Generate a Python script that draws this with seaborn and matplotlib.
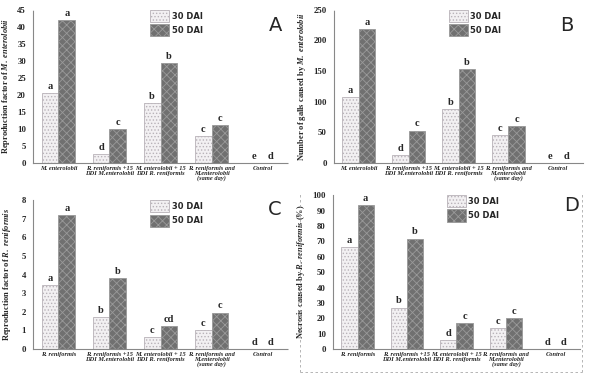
import numpy as np
import pandas as pd
import matplotlib
matplotlib.use("Agg")
import matplotlib.pyplot as plt
import matplotlib.patches as mpatches
import matplotlib.lines as mlines
import seaborn as sns

sns.set_style("white")
plt.rcParams['font.family'] = ['Liberation Serif', 'DejaVu Serif']
plt.rcParams['mathtext.fontset'] = 'custom'
plt.rcParams['mathtext.rm'] = 'Liberation Serif:bold'
plt.rcParams['mathtext.it'] = 'Liberation Serif:bold:italic'
plt.rcParams['hatch.linewidth'] = 0.6

# %%  data

times = ['30 DAI', '50 DAI']

cats_me = ['M. enterolobii', 'R. reniformis +15\nDDI M.enterolobii',
           'M. enterolobii + 15\nDDI R. reniformis',
           'R. reniformis and\nM.enterolobii\n(same day)', 'Control']
cats_rr = ['R. reniformis', 'R. reniformis +15\nDDI M.enterolobii',
           'M. enterolobii + 15\nDDI R. reniformis',
           'R. reniformis and\nM.enterolobii\n(same day)', 'Control']

# A - reproduction factor of M. enterolobii
a_30 = [20.5, 2.6, 17.6, 7.9, 0]
a_50 = [42.0, 10.0, 29.4, 11.1, 0]
a_let30 = ['a', 'd', 'b', 'c', 'e']
a_let50 = ['a', 'c', 'b', 'c', 'd']

# B - number of galls
b_30 = [108, 13.5, 88, 45.5, 0]
b_50 = [219, 53, 153.5, 61, 0]
b_let30 = ['a', 'd', 'b', 'c', 'e']
b_let50 = ['a', 'c', 'b', 'c', 'd']

# C - reproduction factor of R. reniformis
c_30 = [3.45, 1.71, 0.67, 1.03, 0]
c_50 = [7.22, 3.79, 1.25, 1.96, 0]
c_let30 = ['a', 'b', 'c', 'c', 'd']
c_let50 = ['a', 'b', 'cd', 'c', 'd']

# D - necrosis (%)
d_30 = [66.5, 27, 5.6, 13.6, 0]
d_50 = [93.3, 71.8, 16.7, 20.1, 0]
d_let30 = ['a', 'b', 'd', 'c', 'd']
d_let50 = ['a', 'b', 'c', 'c', 'd']

panels = [
    ('A', cats_me, a_30, a_50, a_let30, a_let50, np.arange(0, 46, 5),
     r'Reproduction factor of $\mathit{M.\ enterolobii}$'),
    ('B', cats_me, b_30, b_50, b_let30, b_let50, np.arange(0, 251, 50),
     r'Number of galls caused by $\mathit{M.\ enterolobii}$'),
    ('C', cats_rr, c_30, c_50, c_let30, c_let50, np.arange(0, 9, 1),
     r'Reproduction factor of $\mathit{R.\ reniformis}$'),
    ('D', cats_rr, d_30, d_50, d_let30, d_let50, np.arange(0, 101, 10),
     r'Necrosis caused by $\mathit{R.\ reniformis}$ (%)'),
]

# %%  layout

boxes = {
    'A': [0.056, 0.570, 0.433, 0.404],
    'B': [0.567, 0.570, 0.423, 0.404],
    'C': [0.056, 0.079, 0.433, 0.393],
    'D': [0.565, 0.079, 0.420, 0.406],
}
label_x = {'A': -0.082, 'B': -0.104, 'C': -0.078, 'D': -0.105}
letter_pos = {'A': (0.467, 0.934), 'B': (0.963, 0.934),
              'C': (0.467, 0.446), 'D': (0.971, 0.459)}

light = '#f2f0f2'
dark = '#707070'

fig = plt.figure(figsize=(5.89, 3.79), dpi=100)

for name, cats, v30, v50, l30, l50, yt, ylab in panels:
    ax = fig.add_axes(boxes[name])
    df = pd.DataFrame({
        'treatment': cats * 2,
        'time': [times[0]] * len(cats) + [times[1]] * len(cats),
        'value': list(v30) + list(v50),
    })
    sns.barplot(data=df, x='treatment', y='value', hue='time', order=cats,
                hue_order=times, palette=[light, dark], width=0.66,
                ax=ax, legend=False, errorbar=None, saturation=1)

    for bar in ax.containers[0]:
        bar.set_hatch('.....')
        bar.set_edgecolor('#b8b2b8')
        bar.set_linewidth(0.6)
    for bar in ax.containers[1]:
        bar.set_hatch('xxxx')
        bar.set_edgecolor('#9a9a9a')
        bar.set_linewidth(0.6)

    ax.bar_label(ax.containers[0], labels=l30, padding=1.5, fontsize=7.5,
                 fontweight='bold')
    ax.bar_label(ax.containers[1], labels=l50, padding=1.5, fontsize=7.5,
                 fontweight='bold')

    ax.set_xlim(-0.5, 4.5)
    ax.set_ylim(yt[0], yt[-1])
    ax.set_yticks(yt)
    ax.set_yticklabels([str(t) for t in yt], fontsize=6.3, fontweight='bold')
    ax.set_xticks(np.arange(-0.5, 5, 1))
    ax.set_xticklabels([])
    ax.set_xticks(np.arange(5), minor=True)
    ax.set_xticklabels(cats, minor=True, fontsize=4.6, fontweight='bold',
                       fontstyle='italic', linespacing=0.95)
    ax.tick_params(axis='x', which='minor', length=0, pad=2)
    ax.tick_params(axis='x', which='major', length=2, width=0.5,
                   color='#888888', direction='out')
    ax.tick_params(axis='y', length=2, width=0.5, color='#888888', pad=3,
                   direction='out')
    ax.set_xlabel('')
    ax.set_ylabel(ylab, fontsize=6, fontweight='bold')
    ax.yaxis.set_label_coords(label_x[name], 0.5)

    for side in ['top', 'right']:
        ax.spines[side].set_visible(False)
    for side in ['left', 'bottom']:
        ax.spines[side].set_linestyle((0, (1, 1)))
        ax.spines[side].set_color('#888888')
        ax.spines[side].set_linewidth(0.8)

    handles = [
        mpatches.Patch(facecolor=light, edgecolor='#b8b2b8', hatch='.....',
                       linewidth=0.6, label=times[0]),
        mpatches.Patch(facecolor=dark, edgecolor='#9a9a9a', hatch='xxxx',
                       linewidth=0.6, label=times[1]),
    ]
    ax.legend(handles=handles, loc='upper left', bbox_to_anchor=(0.43, 1.05),
              frameon=False, handlelength=2.3, handleheight=1.9,
              handletextpad=0.3, labelspacing=0.25,
              prop=dict(family='DejaVu Sans', weight='bold', size=6))

    fig.text(*letter_pos[name], name, fontsize=14, family='DejaVu Sans',
             ha='center', va='center')

# dashed frame around panel D
for xs, ys in [([0.509, 0.509], [0.018, 0.493]),
               ([0.509, 0.988], [0.018, 0.018]),
               ([0.988, 0.988], [0.018, 0.493])]:
    fig.add_artist(mlines.Line2D(xs, ys, transform=fig.transFigure,
                                 linestyle=(0, (3, 3)), color='#aaaaaa',
                                 linewidth=0.6))

fig.savefig('out.png', dpi=100)
